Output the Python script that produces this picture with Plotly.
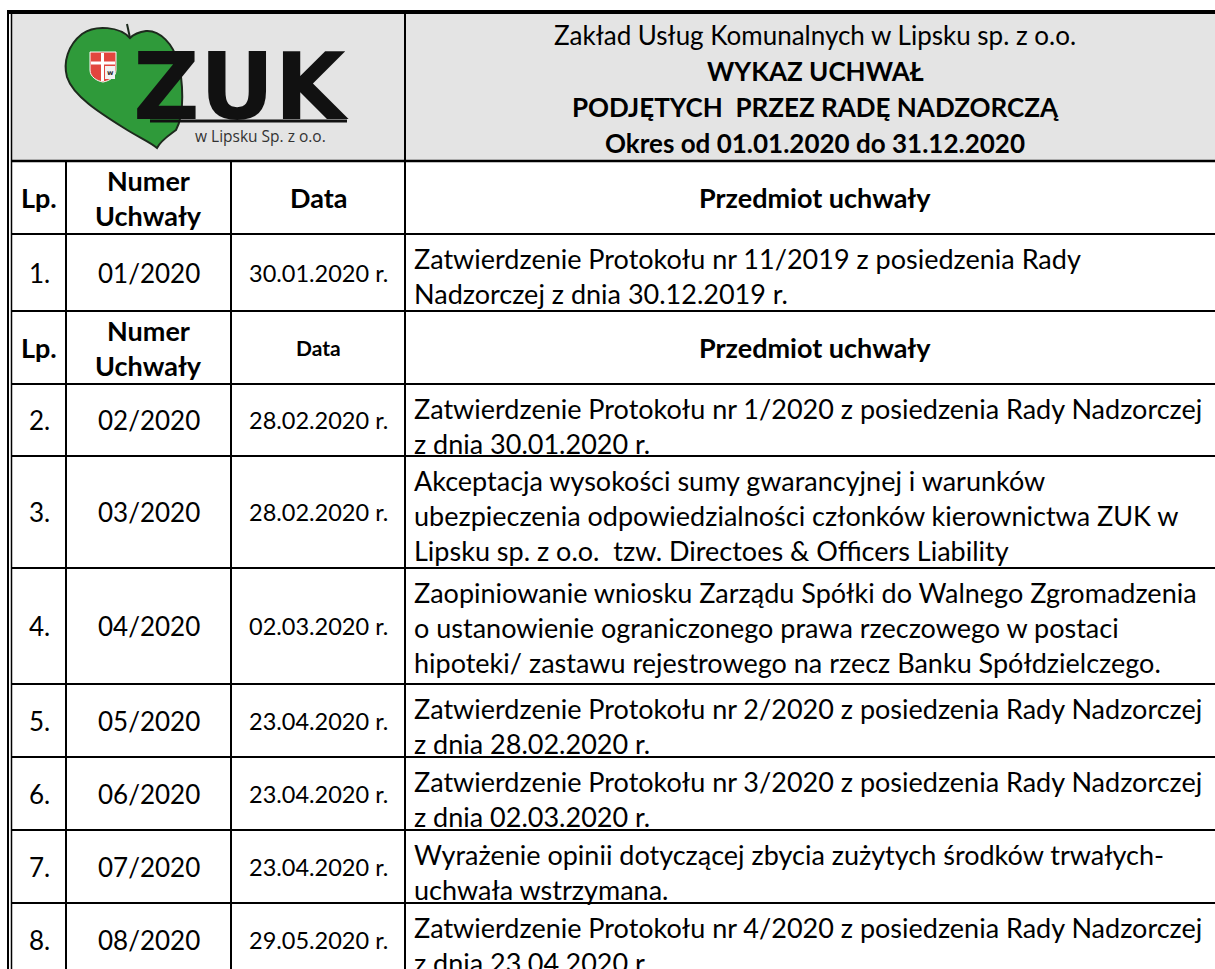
import plotly.graph_objects as go

# ---------------- data ----------------
TITLE_LINES = [
    "Zakład Usług Komunalnych w Lipsku sp. z o.o.",
    "WYKAZ UCHWAŁ",
    "PODJĘTYCH  PRZEZ RADĘ NADZORCZĄ",
    "Okres od 01.01.2020 do 31.12.2020",
]
TITLE_BOLD = [False, True, True, True]

HEAD_LP = "Lp."
HEAD_NUM = ["Numer", "Uchwały"]
HEAD_DATA = "Data"
HEAD_PRZ = "Przedmiot uchwały"

LP = ["1.", "2.", "3.", "4.", "5.", "6.", "7.", "8."]
NUMERY = ["01/2020", "02/2020", "03/2020", "04/2020",
          "05/2020", "06/2020", "07/2020", "08/2020"]
DATY = ["30.01.2020 r.", "28.02.2020 r.", "28.02.2020 r.", "02.03.2020 r.",
        "23.04.2020 r.", "23.04.2020 r.", "23.04.2020 r.", "29.05.2020 r."]
PRZEDMIOT = [
    ["Zatwierdzenie Protokołu nr 11/2019 z posiedzenia Rady",
     "Nadzorczej z dnia 30.12.2019 r."],
    ["Zatwierdzenie Protokołu nr 1/2020 z posiedzenia Rady Nadzorczej",
     "z dnia 30.01.2020 r."],
    ["Akceptacja wysokości sumy gwarancyjnej i warunków",
     "ubezpieczenia odpowiedzialności członków kierownictwa ZUK w",
     "Lipsku sp. z o.o.  tzw. Directoes & Officers Liability"],
    ["Zaopiniowanie wniosku Zarządu Spółki do Walnego Zgromadzenia",
     "o ustanowienie ograniczonego prawa rzeczowego w postaci",
     "hipoteki/ zastawu rejestrowego na rzecz Banku Spółdzielczego."],
    ["Zatwierdzenie Protokołu nr 2/2020 z posiedzenia Rady Nadzorczej",
     "z dnia 28.02.2020 r."],
    ["Zatwierdzenie Protokołu nr 3/2020 z posiedzenia Rady Nadzorczej",
     "z dnia 02.03.2020 r."],
    ["Wyrażenie opinii dotyczącej zbycia zużytych środków trwałych-",
     "uchwała wstrzymana."],
    ["Zatwierdzenie Protokołu nr 4/2020 z posiedzenia Rady Nadzorczej",
     "z dnia 23.04.2020 r."],
]

LOGO_MARK = "ZUK"
LOGO_SUB = "w Lipsku Sp. z o.o."

# ---------------- layout / style constants ----------------
W, H = 1215, 969
FONT = "Lato"
COL_EDGES = [12, 66, 231, 405, 1225]
TOP = 12
HEAD_BOTTOM = 161
# bands under the title block: "head" = column header, int = data row index
BANDS = ["head1", 0, "head2", 1, 2, 3, 4, 5, 6, 7]
BAND_EDGES = [161, 234, 311, 384, 456, 568, 684, 757, 830, 903, 976]
TITLE_Y = [35, 71, 107, 143]
TITLE_X = 815
DESC_X = 412
LINE_STEP = 35
FIRST_LINE = 24.5
GRAY = "#e4e4e4"

SZ_TITLE = 26
SZ_HEAD = 27
SZ_HEAD_DATA2 = 21
SZ_NUM = 26
SZ_DATE = 23.5
SZ_DESC = 27

fig = go.Figure()
fig.add_trace(go.Scatter(x=[0, W], y=[0, H], mode="markers",
                         marker=dict(opacity=0), hoverinfo="skip",
                         showlegend=False))

shapes = []
ann = []


def txt(x, y, s, size, bold=False, xanchor="center", color="#000",
        family=FONT):
    ann.append(dict(x=x, y=y, xref="x", yref="y", text=s, showarrow=False,
                    xanchor=xanchor, yanchor="middle",
                    font=dict(family=family, size=size, color=color,
                              weight="bold" if bold else "normal")))


def line(x0, y0, x1, y1, w=2, color="#000"):
    shapes.append(dict(type="line", x0=x0, y0=y0, x1=x1, y1=y1,
                       xref="x", yref="y", line=dict(color=color, width=w)))


# gray title block
shapes.append(dict(type="rect", x0=COL_EDGES[0], x1=COL_EDGES[-1],
                   y0=TOP, y1=HEAD_BOTTOM, xref="x", yref="y",
                   fillcolor=GRAY, line=dict(width=0), layer="below"))

# ---------- logo ----------
leaf = ("M 130 38 C 120 27, 96 24, 82 34 C 68 45, 63 62, 67 77 "
        "C 73 96, 100 113, 124 128 C 138 137, 150 142, 157 148 "
        "C 161 140, 168 136, 176 130 C 185 114, 183 80, 178 62 "
        "C 173 44, 160 30, 146 31 C 139 32, 133 35, 130 38 Z")
shapes.append(dict(type="path", path=leaf, xref="x", yref="y",
                   fillcolor="#2f9a3a", line=dict(color="#1d2a1d", width=2)))
line(130, 38, 127, 24, w=2, color="#1d2a1d")
shield = ("M 90 52 L 116 52 L 116 70 C 116 77, 109 81, 103 82 "
          "C 97 81, 90 77, 90 70 Z")
shapes.append(dict(type="path", path=shield, xref="x", yref="y",
                   fillcolor="#e2463e", line=dict(color="#ffffff", width=1)))
shapes.append(dict(type="rect", x0=105, x1=115, y0=66, y1=79, xref="x",
                   yref="y", fillcolor="#f2f2f2", line=dict(width=0)))
line(102.5, 53, 102.5, 81, w=3, color="#ffffff")
line(91, 63, 115, 63, w=3, color="#ffffff")
txt(110, 73, "w", 7, bold=True, color="#333", family="DejaVu Sans")

txt(241, 87, LOGO_MARK, 92, bold=True, color="#111", family="DejaVu Sans")
line(150, 121, 347, 121, w=3, color="#111")
txt(260, 136, LOGO_SUB, 15.5, color="#333", family="Open Sans")

# ---------- title ----------
for s, b, y in zip(TITLE_LINES, TITLE_BOLD, TITLE_Y):
    txt(TITLE_X, y, s, SZ_TITLE, bold=b)

# ---------- table bands ----------
col_c = [(COL_EDGES[i] + COL_EDGES[i + 1]) / 2 for i in range(3)]
for k, band in enumerate(BANDS):
    top, bot = BAND_EDGES[k], BAND_EDGES[k + 1]
    mid = (top + bot) / 2
    if isinstance(band, str):
        txt(col_c[0], mid, HEAD_LP, SZ_HEAD, bold=True)
        txt(col_c[1], mid - 17, HEAD_NUM[0], SZ_HEAD, bold=True)
        txt(col_c[1], mid + 18, HEAD_NUM[1], SZ_HEAD, bold=True)
        txt(col_c[2], mid, HEAD_DATA,
            SZ_HEAD if band == "head1" else SZ_HEAD_DATA2, bold=True)
        txt(TITLE_X, mid, HEAD_PRZ, SZ_HEAD, bold=True)
    else:
        txt(col_c[0], mid, LP[band], SZ_NUM)
        txt(col_c[1], mid, NUMERY[band], SZ_NUM)
        txt(col_c[2], mid, DATY[band], SZ_DATE)
        for j, s in enumerate(PRZEDMIOT[band]):
            txt(DESC_X, top + FIRST_LINE + j * LINE_STEP, s, SZ_DESC,
                xanchor="left")

# ---------- grid ----------
for y in BAND_EDGES[:-1]:
    line(11, y, COL_EDGES[-1], y, w=2.5 if y == HEAD_BOTTOM else 2)
for x in COL_EDGES[1:3]:
    line(x, HEAD_BOTTOM, x, BAND_EDGES[-1], w=2)
line(COL_EDGES[3], TOP, COL_EDGES[3], BAND_EDGES[-1], w=2)
line(COL_EDGES[-1], TOP, COL_EDGES[-1], BAND_EDGES[-1], w=2)
# double left border + heavy top border
line(8, 10, 8, BAND_EDGES[-1], w=2)
line(11.5, 12, 11.5, BAND_EDGES[-1], w=1.5)
line(7, TOP, COL_EDGES[-1], TOP, w=4)

fig.update_layout(
    width=W, height=H, margin=dict(l=0, r=0, t=0, b=0),
    paper_bgcolor="white", plot_bgcolor="white",
    xaxis=dict(range=[0, W], visible=False, fixedrange=True),
    yaxis=dict(range=[H, 0], visible=False, fixedrange=True),
    shapes=shapes, annotations=ann, showlegend=False,
)

fig.write_html("out.html", config={"displayModeBar": False},
               post_script="document.body.style.margin='0';"
                           "document.body.style.overflow='hidden';")
